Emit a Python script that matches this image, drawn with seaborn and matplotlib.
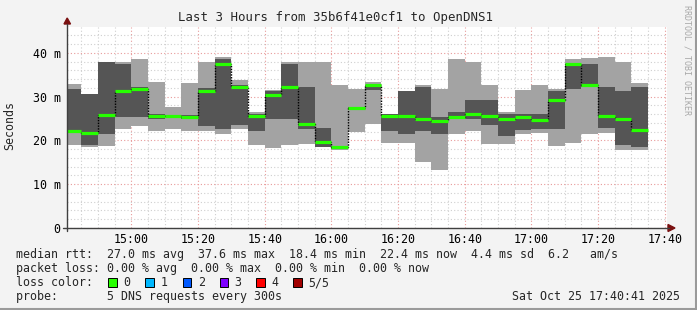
import numpy as np
import pandas as pd
import matplotlib
matplotlib.use("Agg")
import matplotlib.pyplot as plt
import seaborn as sns
from matplotlib.patches import Rectangle, Polygon
from matplotlib.lines import Line2D
from matplotlib.ticker import MultipleLocator, FixedLocator

# ---------------- data (5-minute smoke bins, ms) ----------------
times = ["14:40", "14:45", "14:50", "14:55", "15:00", "15:05", "15:10", "15:15",
         "15:20", "15:25", "15:30", "15:35", "15:40", "15:45", "15:50", "15:55",
         "16:00", "16:05", "16:10", "16:15", "16:20", "16:25", "16:30", "16:35",
         "16:40", "16:45", "16:50", "16:55", "17:00", "17:05", "17:10", "17:15",
         "17:20", "17:25", "17:30"]
ping_max = [32.9, 30.7, 38.0, 37.9, 38.5, 33.4, 27.6, 33.1, 38.0, 39.1, 33.8, 26.5,
            31.4, 38.0, 38.0, 38.0, 32.7, 31.8, 33.3, 26.0, 31.3, 32.7, 31.8, 38.7,
            38.0, 32.7, 26.4, 31.5, 32.7, 31.8, 38.6, 38.9, 39.1, 38.0, 33.1]
ping_q3 = [31.8, 30.6, 38.0, 37.5, 32.3, 26.0, 25.8, 25.8, 31.9, 38.7, 32.7, 26.0,
           31.3, 37.5, 32.2, 22.9, 18.8, 27.6, 32.7, 26.0, 31.3, 32.2, 25.3, 26.4,
           29.2, 29.2, 26.0, 26.0, 26.0, 31.3, 37.5, 37.5, 32.1, 31.3, 32.1]
ping_median = [22.2, 21.6, 25.9, 31.3, 31.7, 25.5, 25.5, 25.3, 31.2, 37.5, 32.1, 25.5,
               30.3, 32.1, 23.8, 19.7, 18.4, 27.3, 32.6, 25.6, 25.5, 25.0, 24.4, 25.3,
               26.0, 25.5, 25.0, 25.3, 24.7, 29.2, 37.5, 32.6, 25.6, 24.9, 22.4]
ping_q1 = [21.8, 18.9, 21.5, 25.3, 25.3, 25.0, 25.3, 25.0, 23.4, 22.7, 23.5, 22.1,
           24.9, 24.9, 22.6, 18.5, 18.0, 27.0, 31.5, 22.1, 21.5, 22.1, 21.5, 24.9,
           24.9, 23.5, 21.1, 22.4, 22.7, 22.7, 31.8, 32.1, 22.9, 18.9, 18.5]
ping_min = [18.9, 18.5, 18.8, 22.6, 23.4, 22.1, 22.6, 22.1, 22.1, 21.5, 22.7, 18.9,
            18.2, 18.9, 19.1, 18.4, 17.9, 22.0, 23.8, 19.5, 19.5, 15.1, 13.3, 21.5,
            22.1, 19.1, 19.1, 21.4, 21.8, 18.8, 19.5, 21.5, 21.8, 17.9, 17.9]

x_tick_labels = ["15:00", "15:20", "15:40", "16:00", "16:20", "16:40", "17:00", "17:20", "17:40"]
y_ticks = [0, 10, 20, 30, 40]
y_tick_labels = ["0", "10 m", "20 m", "30 m", "40 m"]

range_start = "14:40:41"
range_end = "17:40:41"
step_min = 5

legend_lines = [
    "median rtt:  27.0 ms avg  37.6 ms max  18.4 ms min  22.4 ms now  4.4 ms sd  6.2   am/s",
    "packet loss: 0.00 % avg  0.00 % max  0.00 % min  0.00 % now",
]
loss_labels = ["0", "1", "2", "3", "4", "5/5"]
loss_colors = ["#26ff00", "#00b8ff", "#0059ff", "#7e00ff", "#ff0000", "#a10000"]


def to_min(s):
    parts = [int(p) for p in s.split(":")]
    h, m = parts[0], parts[1]
    sec = parts[2] if len(parts) > 2 else 0
    return (h - 14) * 60 + m + sec / 60.0


df = pd.DataFrame({
    "t": [to_min(t) for t in times],
    "max": ping_max, "q3": ping_q3, "median": ping_median,
    "q1": ping_q1, "min": ping_min,
})

# ---------------- figure ----------------
W, H = 697, 310
BG = "#f3f3f3"
sns.set_theme(style="white")
plt.rcParams["font.family"] = ["DejaVu Sans Mono", "DejaVu Sans"]
MONO = "DejaVu Sans Mono"
FS = 8.4

fig = plt.figure(figsize=(W / 100, H / 100), dpi=100, facecolor=BG)
ax = fig.add_axes([67 / W, (H - 228) / H, 600 / W, 201 / H])
ax.set_facecolor("white")

xs, xe = to_min(range_start), to_min(range_end)
ax.set_xlim(xs, xe)
ax.set_ylim(0, 45.9)

# grid
ax.xaxis.set_major_locator(FixedLocator([to_min(t) for t in x_tick_labels]))
ax.xaxis.set_minor_locator(MultipleLocator(5))
ax.yaxis.set_major_locator(FixedLocator(y_ticks))
ax.yaxis.set_minor_locator(MultipleLocator(2))
ax.grid(which="minor", color="#cfcfcf", linestyle=(0, (1, 2)), linewidth=0.8)
ax.grid(which="major", color="#e89a9a", linestyle=(0, (1, 2)), linewidth=0.8)
ax.set_axisbelow(True)
ax.set_xticklabels(x_tick_labels)
ax.set_yticklabels(y_tick_labels)
ax.tick_params(axis="both", which="both", length=0, labelsize=FS, colors="black")
ax.tick_params(axis="x", pad=3.5)
ax.tick_params(axis="y", pad=4.5)
for lab in ax.get_xticklabels() + ax.get_yticklabels():
    lab.set_family(MONO)
for sp in ax.spines.values():
    sp.set_visible(False)

# smoke
ax.bar(df["t"], df["max"] - df["min"], bottom=df["min"], width=step_min, align="edge",
       color="#a3a3a3", linewidth=0, zorder=2)
ax.bar(df["t"], df["q3"] - df["q1"], bottom=df["q1"], width=step_min, align="edge",
       color="#555555", linewidth=0, zorder=3)

# median: dotted black step connectors + green segments
step_x = list(df["t"]) + [df["t"].iloc[-1] + step_min]
step_y = list(df["median"]) + [df["median"].iloc[-1]]
sns.lineplot(x=step_x, y=step_y, drawstyle="steps-post", color="black",
             linestyle=(0, (1, 1)), linewidth=1.0, estimator=None, sort=False,
             ax=ax, zorder=4)
ax.hlines(df["median"], df["t"], df["t"] + step_min, colors=loss_colors[0],
          linewidth=2.3, zorder=5)
ax.set_xlabel("")
ax.set_ylabel("")

# ---------------- pixel-coordinate helpers ----------------
def fx(px):
    return px / W


def fy(py):
    return 1 - py / H


def ftext(px, py, s, **kw):
    kw.setdefault("fontsize", FS)
    kw.setdefault("family", MONO)
    kw.setdefault("va", "center")
    fig.text(fx(px), fy(py), s, **kw)


# axis lines and arrows
fig.add_artist(Line2D([fx(67), fx(67)], [fy(231), fy(24)], color="#404040", lw=1.0))
fig.add_artist(Line2D([fx(63), fx(669)], [fy(228), fy(228)], color="#404040", lw=1.0))
fig.add_artist(Polygon([[fx(64), fy(24)], [fx(70.5), fy(24)], [fx(67.2), fy(18)]],
                       closed=True, color="#7a1010", transform=fig.transFigure))
fig.add_artist(Polygon([[fx(668), fy(224.5)], [fx(668), fy(231.5)], [fx(675), fy(228)]],
                       closed=True, color="#7a1010", transform=fig.transFigure))

# title, y label, watermark
ftext(335.5, 18, "Last 3 Hours from 35b6f41e0cf1 to OpenDNS1", ha="center", fontsize=8.9)
ftext(10, 126, "Seconds", ha="center", rotation=90)
ftext(687, 5, "RRDTOOL / TOBI OETIKER", ha="center", va="top", rotation=270,
      fontsize=6.0, color="#a8a8a8")

# legend
ftext(16, 254.5, legend_lines[0], ha="left")
ftext(16, 268.5, legend_lines[1], ha="left")
ftext(16, 282.5, "loss color:", ha="left")
box_x = [108, 145.3, 182.7, 219.6, 256.4, 293.3]
for bx, lbl, col in zip(box_x, loss_labels, loss_colors):
    fig.add_artist(Rectangle((fx(bx), fy(287)), 8.5 / W, 9 / H, transform=fig.transFigure,
                             facecolor=col, edgecolor="black", linewidth=0.7))
    ftext(bx + 15, 282.5, lbl, ha="left")
ftext(16, 296.5, "probe:       5 DNS requests every 300s", ha="left")
ftext(680, 296.5, "Sat Oct 25 17:40:41 2025", ha="right")

# canvas frame shadow
fig.add_artist(Line2D([fx(0), fx(697)], [fy(309), fy(309)], color="#9a9a9a", lw=1.5))
fig.add_artist(Line2D([fx(696), fx(696)], [fy(0), fy(310)], color="#9a9a9a", lw=1.5))

fig.savefig("out.png", dpi=100, facecolor=BG)
